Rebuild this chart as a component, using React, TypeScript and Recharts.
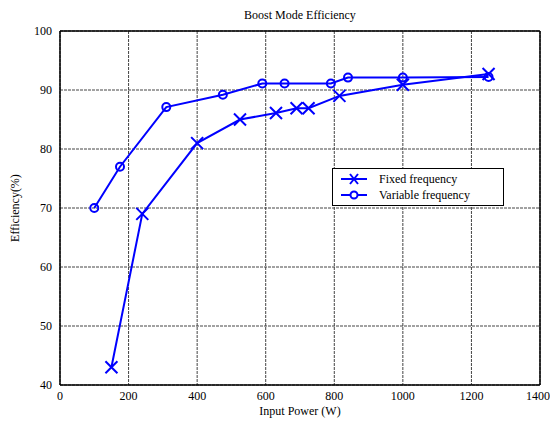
import React from "react";
import {
  LineChart, Line, XAxis, YAxis, CartesianGrid, ReferenceLine
} from "recharts";

const fixedPower = [150, 240, 400, 525, 630, 690, 725, 815, 1000, 1250];
const fixedEff   = [43, 69, 81, 85, 86.1, 86.9, 86.9, 89, 90.9, 92.7];

const variablePower = [100, 175, 310, 475, 590, 655, 790, 840, 1000, 1250];
const variableEff   = [70, 77, 87.1, 89.2, 91.1, 91.1, 91.1, 92.1, 92.1, 92.2];

const xTicks = [0, 200, 400, 600, 800, 1000, 1200, 1400];
const yTicks = [40, 50, 60, 70, 80, 90, 100];

const seriesNames = ["Fixed frequency", "Variable frequency"];

const fixedData = fixedPower.map((p, i) => ({ power: p, eff: fixedEff[i] }));
const variableData = variablePower.map((p, i) => ({ power: p, eff: variableEff[i] }));

const BLUE = "#0000ff";
const FONT = "'Liberation Serif', 'Times New Roman', serif";

const Cross = (props: any) => {
  const { cx, cy } = props;
  if (cx == null || cy == null) return null;
  const s = 6;
  return (
    <path
      key={`x-${cx}-${cy}`}
      d={`M${cx - s},${cy - s}L${cx + s},${cy + s}M${cx - s},${cy + s}L${cx + s},${cy - s}`}
      stroke={BLUE}
      strokeWidth={2}
      fill="none"
    />
  );
};

const Ring = (props: any) => {
  const { cx, cy } = props;
  if (cx == null || cy == null) return null;
  return <circle key={`o-${cx}-${cy}`} cx={cx} cy={cy} r={4} stroke={BLUE} strokeWidth={2} fill="none" />;
};

const LegendBox = () => (
  <div
    style={{
      position: "absolute", left: 332, top: 168, boxSizing: "border-box",
      width: 172, height: 38,
      border: "1.5px solid #000",
      background: "#fff",
      padding: "2px 6px",
      fontFamily: FONT,
      fontSize: 12,
      color: "#000",
    }}
  >
    {seriesNames.map((name, idx) => (
      <div key={name} style={{ display: "flex", alignItems: "center", height: 16 }}>
        <svg width={30} height={14} style={{ marginRight: 10 }}>
          <line x1={2} y1={7} x2={28} y2={7} stroke={BLUE} strokeWidth={2} />
          {idx === 0 ? (
            <path d="M11,2L19,12M11,12L19,2" stroke={BLUE} strokeWidth={2} />
          ) : (
            <circle cx={15} cy={7} r={3.5} stroke={BLUE} strokeWidth={2} fill="#fff" />
          )}
        </svg>
        <span>{name}</span>
      </div>
    ))}
  </div>
);

export default function App() {
  return (
    <div style={{ position: "absolute", left: 0, top: 0, width: 550, height: 423, background: "#fff" }}>
      <div
        style={{
          position: "absolute", left: 60, width: 480, top: 8, textAlign: "center",
          fontFamily: FONT, fontSize: 12, color: "#000",
        }}
      >
        Boost Mode Efficiency
      </div>
      <LineChart width={550} height={423} margin={{ top: 31, right: 10, bottom: 0, left: 0 }}>
        <CartesianGrid stroke="#444" strokeDasharray="3 1" />
        <XAxis
          type="number"
          dataKey="power"
          domain={[0, 1400]}
          ticks={xTicks}
          allowDataOverflow
          height={38}
          tickLine={false}
          tickSize={4}
          axisLine={{ stroke: "#000", strokeWidth: 1.5 }}
          tick={{ fill: "#000", fontSize: 12, fontFamily: FONT }}
          label={{ value: "Input Power (W)", position: "insideBottom", offset: 8, fill: "#000", fontSize: 12, fontFamily: FONT }}
        />
        <YAxis
          type="number"
          dataKey="eff"
          domain={[40, 100]}
          ticks={yTicks}
          allowDataOverflow
          width={60}
          tickLine={false}
          axisLine={{ stroke: "#000", strokeWidth: 1.5 }}
          tick={{ fill: "#000", fontSize: 12, fontFamily: FONT }}
          label={{
            value: "Efficiency(%)", angle: -90, position: "insideLeft", offset: 15,
            fill: "#000", fontSize: 12, fontFamily: FONT, style: { textAnchor: "middle" },
          }}
        />
        <ReferenceLine x={1400} stroke="#000" strokeWidth={1.5} />
        <ReferenceLine y={100} stroke="#000" strokeWidth={1.5} />
        <Line
          data={fixedData}
          dataKey="eff"
          name={seriesNames[0]}
          stroke={BLUE}
          strokeWidth={2}
          dot={Cross}
          activeDot={false}
          isAnimationActive={false}
        />
        <Line
          data={variableData}
          dataKey="eff"
          name={seriesNames[1]}
          stroke={BLUE}
          strokeWidth={2}
          dot={Ring}
          activeDot={false}
          isAnimationActive={false}
        />
      </LineChart>
      <LegendBox />
    </div>
  );
}
